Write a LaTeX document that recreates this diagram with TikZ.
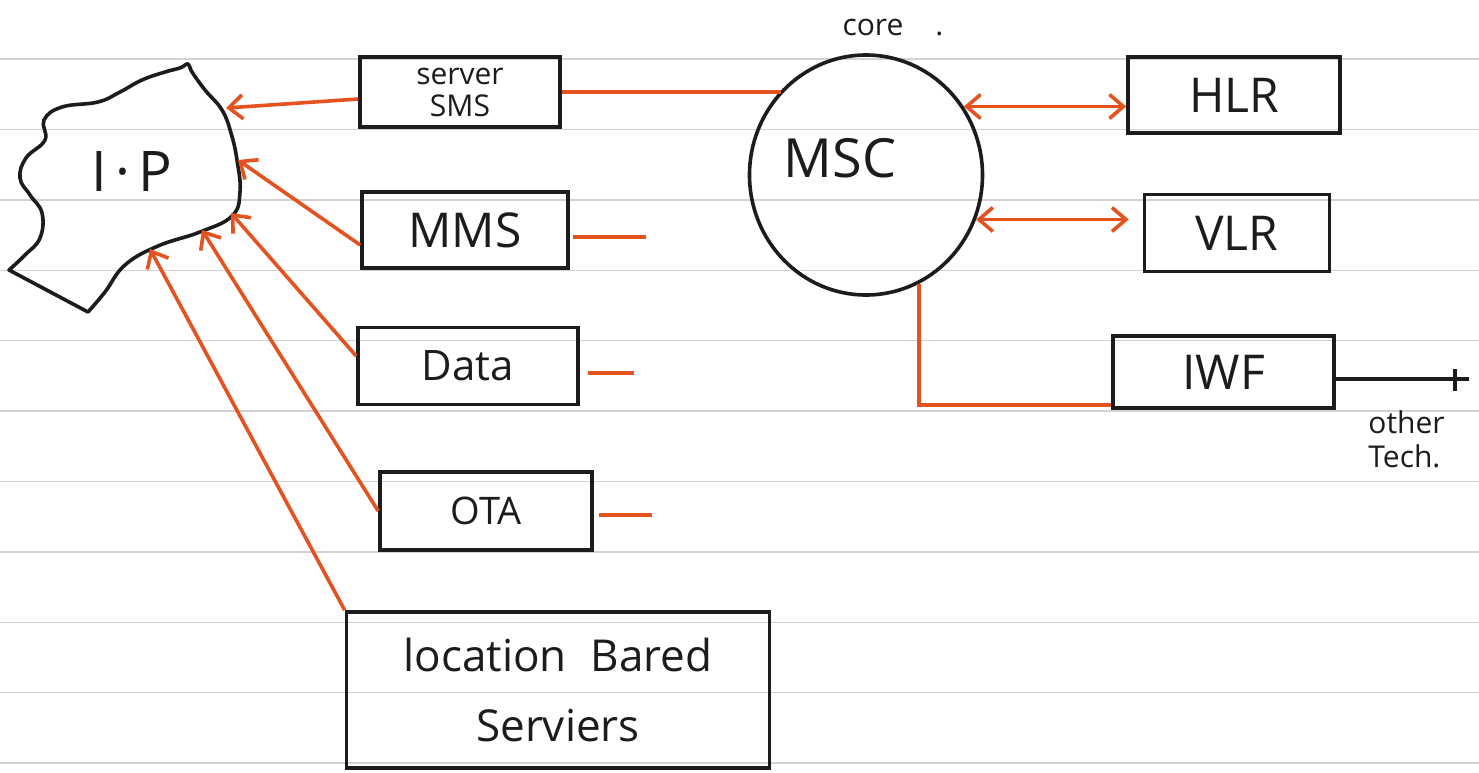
\documentclass[tikz,border=0pt]{standalone}
\usepackage{fontspec}
\setmainfont{Open Sans}
\usetikzlibrary{shapes.geometric,arrows.meta,calc}
\definecolor{ink}{HTML}{1C1C1C}
\definecolor{rust}{HTML}{E4521F}
\definecolor{ruleline}{HTML}{D6D0D0}
\begin{document}
\begin{tikzpicture}[x=0.5pt,y=-0.5pt,
  box/.style={draw=ink, line width=1.8pt, inner sep=0pt, align=center, text=ink},
  fs/.style={font=\fontsize{#1}{#1}\selectfont},
  wire/.style={draw=rust, line width=1.8pt},
  barb/.tip={Straight Barb[length=7pt,width=12pt]},
  arr/.style={wire, -barb},
  dbl/.style={wire, barb-barb},
  inkline/.style={draw=ink, line width=1.8pt, line join=round}
]
\useasboundingbox (0,0) rectangle (1479,772);
\fill[white] (0,0) rectangle (1479,772);
% ruled paper
\foreach \k in {0,...,10}
  \draw[ruleline, line width=0.7pt] (0,{59+70.4*\k}) -- (1479,{59+70.4*\k});

% I.P cloud
\draw[inkline] plot[smooth, tension=0.7] coordinates {(9,270) (25,255) (40,238) (42,213) (30,195) (20,178) (26,158) (45,140) (44,120) (62,107) (98,102) (120,92) (142,80) (165,72) (180,68) (188,64) (192,72) (205,90) (222,110) (231,133) (237,160) (240,192) (232,216) (200,232) (158,246) (125,265) (105,292) (88,312)} -- cycle;
\node[fs=28, text=ink] (ip) at (132,172) {I\hspace{4pt}·\hspace{4pt}P};
\coordinate (ipA) at (226,108);
\coordinate (ipB) at (238,160);
\coordinate (ipC) at (231,213);
\coordinate (ipD) at (202,230);
\coordinate (ipE) at (150,249);

% service boxes
\node[box, font=\fontsize{15}{16}\selectfont, minimum width=100pt, minimum height=35pt] (sms) at (460,92) {server\\SMS};
\node[box, fs=24, minimum width=103pt, minimum height=38pt] (mms) at (465,230) {MMS};
\node[box, fs=21, minimum width=110pt, minimum height=38.5pt] (data) at (468,366) {Data};
\node[box, fs=19, minimum width=106pt, minimum height=39pt] (ota) at (486,511) {OTA};
\node[box, font=\fontsize{22}{35}\selectfont, minimum width=211.5pt, minimum height=78pt] (lbs) at (558,690) {location\hspace{12pt}Bared\\Serviers};

% core
\node[draw=ink, line width=1.8pt, ellipse, inner sep=0pt, minimum width=116.5pt, minimum height=120pt] (msc) at (866,175) {};
\node[fs=27, text=ink] (msctext) at (840,158) {MSC};
\node[fs=15, text=ink] (core) at (893,28) {core\hspace{16pt}.};

\node[box, fs=24, minimum width=106pt, minimum height=38pt] (hlr) at (1234,95) {HLR};
\node[box, fs=24, minimum width=92.5pt, minimum height=38.5pt] (vlr) at (1237,233) {VLR};
\node[box, fs=24, minimum width=110.5pt, minimum height=36pt] (iwf) at (1223.5,372) {IWF};
\node[fs=15, text=ink, align=left, anchor=north west, inner sep=0pt] (oth) at (1368,410) {other\\[2pt]Tech.};

% connectors to I.P
\draw[arr] ($(sms.west)+(0,7)$) -- (ipA);
\draw[arr] ($(mms.west)+(0,15)$) -- (ipB);
\draw[arr] ($(data.west)+(0,-10)$) -- (ipC);
\draw[arr] (ota.west) -- (ipD);
\draw[arr] (lbs.north west) -- (ipE);

% loose tails
\draw[wire] ($(mms.east)+(3,7)$) -- ++(73,0) coordinate (mmsend);
\draw[wire] ($(data.east)+(8,7)$) -- ++(46,0) coordinate (dataend);
\draw[wire] ($(ota.east)+(5,4)$) -- ++(53,0) coordinate (otaend);

% core links
\draw[wire] (sms.east) -- (sms.east -| msc.135);
\draw[dbl] (msc.35) -- (msc.35 -| hlr.west);
\draw[dbl, shorten >=7pt] (msc.-22) -- (msc.-22 -| vlr.west);
\draw[wire] (msc.-64) |- ($(iwf.south west)+(0,-5)$);

% other technologies
\draw[inkline] ($(iwf.east)+(0,7)$) -- ++(133,0) coordinate (othend);
\draw[inkline] ($(othend)+(-14,-10)$) -- ++(0,22);
\end{tikzpicture}
\end{document}
